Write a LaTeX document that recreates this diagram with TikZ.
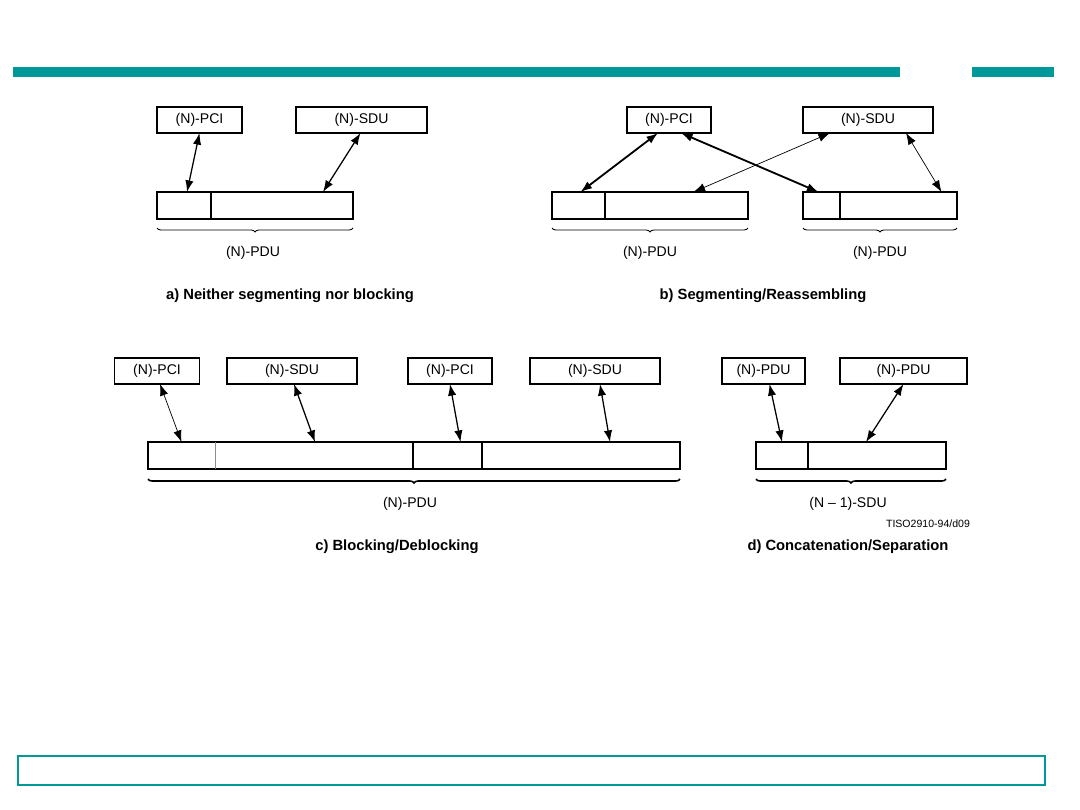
\documentclass[tikz,border=0pt]{standalone}
\usepackage{fontspec}
\setmainfont{Liberation Sans}
\usetikzlibrary{calc,arrows.meta,positioning,decorations.pathreplacing}
\definecolor{slideteal}{RGB}{0,153,153}
\newcommand{\upx}{0.025cm}
\tikzset{
  pbox/.style={rectangle, draw=black, line width=1pt, minimum height=26*\upx,
               inner sep=0pt, outer sep=0pt, font=\fontsize{10}{12}\selectfont},
  pcell/.style={rectangle, minimum height=27*\upx, inner sep=0pt, outer sep=0pt},
  pframe/.style={line width=1pt},
  pdiv/.style={line width=1pt},
  pdivfaint/.style={line width=0.4pt, black!45},
  plink/.style={{Latex[length=2.9mm,width=2.1mm]}-{Latex[length=2.9mm,width=2.1mm]},
                line width=0.9pt},
  plinkthick/.style={plink, line width=1.3pt},
  plinkthin/.style={plink, line width=0.5pt},
  pbrace/.style={decorate, decoration={brace, mirror, amplitude=0.1cm}, line width=0.6pt},
  pbracebold/.style={pbrace, line width=1.1pt},
  plabel/.style={font=\fontsize{10}{12}\selectfont},
  pcaption/.style={font=\fontsize{10.5}{12.5}\selectfont\bfseries},
  pref/.style={font=\fontsize{7.5}{9}\selectfont},
}

\begin{document}
\begin{tikzpicture}[x=\upx, y=-\upx]
  \useasboundingbox (0,0) rectangle (1080,810);
  % slide frame
  \fill[slideteal] (13,67) rectangle (900,77);
  \fill[slideteal] (972,67) rectangle (1054,77);
  \draw[slideteal, line width=1.5pt] (18,756) rectangle (1045,785);

  % a) neither segmenting nor blocking
  \node[pbox, minimum width=85*\upx] (pciA) at (199.5,120) {(N)-PCI};
  \node[pbox, minimum width=131*\upx] (sduA) at (361.5,120) {(N)-SDU};
  \node[pcell, minimum width=54*\upx, anchor=north west] (hdrA) at (157,192) {};
  \node[pcell, minimum width=142*\upx, right=0pt of hdrA] (bodyA) {};
  \draw[pframe] (hdrA.north west) rectangle (bodyA.south east);
  \draw[pdiv] (bodyA.north west) -- (bodyA.south west);
  \draw[plink] (pciA.south) -- ($(hdrA.north)+(3,0)$);
  \draw[plink] ($(sduA.south)+(-1,0)$) -- ($(bodyA.north)+(41,0)$);
  \draw[pbrace] ($(hdrA.south west)+(0,9)$) -- ($(bodyA.south east)+(0,9)$);
  \node[plabel] (pduA) at (253,253) {(N)-PDU};
  \node[pcaption] (capA) at (290,296) {a) Neither segmenting nor blocking};

  % b) segmenting/reassembling
  \node[pbox, minimum width=84*\upx] (pciB) at (669,120) {(N)-PCI};
  \node[pbox, minimum width=130*\upx] (sduB) at (868,120) {(N)-SDU};
  \node[pcell, minimum width=53*\upx, anchor=north west] (hdr1B) at (552,192) {};
  \node[pcell, minimum width=143*\upx, right=0pt of hdr1B] (body1B) {};
  \node[pcell, minimum width=37*\upx, anchor=north west] (hdr2B) at (803,192) {};
  \node[pcell, minimum width=117*\upx, right=0pt of hdr2B] (body2B) {};
  \draw[pframe] (hdr1B.north west) rectangle (body1B.south east);
  \draw[pframe] (hdr2B.north west) rectangle (body2B.south east);
  \draw[pdiv] (body1B.north west) -- (body1B.south west);
  \draw[pdiv] (body2B.north west) -- (body2B.south west);
  \draw[plinkthick] ($(pciB.south)+(-11,0)$) -- ($(hdr1B.north)+(2,0)$);
  \draw[plinkthick] ($(pciB.south)+(12,0)$) -- ($(hdr2B.north)+(-3,0)$);
  \draw[plinkthin] ($(sduB.south)+(-38,0)$) -- ($(body1B.north)+(17,0)$);
  \draw[plinkthin] ($(sduB.south)+(38,0)$) -- ($(body2B.north)+(43,0)$);
  \draw[pbrace] ($(hdr1B.south west)+(0,9)$) -- ($(body1B.south east)+(0,9)$);
  \draw[pbrace] ($(hdr2B.south west)+(0,9)$) -- ($(body2B.south east)+(0,9)$);
  \node[plabel] (pdu1B) at (650,253) {(N)-PDU};
  \node[plabel] (pdu2B) at (880,253) {(N)-PDU};
  \node[pcaption] (capB) at (763,296) {b) Segmenting/Reassembling};

  % c) blocking/deblocking
  \node[pbox, minimum width=85*\upx] (pci1C) at (157,371) {(N)-PCI};
  \node[pbox, minimum width=130*\upx] (sdu1C) at (292,371) {(N)-SDU};
  \node[pbox, minimum width=84*\upx] (pci2C) at (450,371) {(N)-PCI};
  \node[pbox, minimum width=130*\upx] (sdu2C) at (595,371) {(N)-SDU};
  \node[pcell, minimum width=67*\upx, anchor=north west] (c1) at (148,442) {};
  \node[pcell, minimum width=198*\upx, right=0pt of c1] (c2) {};
  \node[pcell, minimum width=69*\upx, right=0pt of c2] (c3) {};
  \node[pcell, minimum width=198*\upx, right=0pt of c3] (c4) {};
  \draw[pframe] (c1.north west) rectangle (c4.south east);
  \draw[pdivfaint] (c2.north west) -- (c2.south west);
  \draw[pdiv] (c3.north west) -- (c3.south west);
  \draw[pdiv] (c4.north west) -- (c4.south west);
  \draw[plinkthin] ($(pci1C.south)+(3,0)$) -- (c1.north);
  \draw[plink] ($(sdu1C.south)+(2,0)$) -- ($(c2.north)+(1,0)$);
  \draw[plink] (pci2C.south) -- ($(c3.north)+(13,0)$);
  \draw[plink] ($(sdu2C.south)+(5,0)$) -- ($(c4.north)+(29,0)$);
  \draw[pbracebold] ($(c1.south west)+(0,10)$) -- ($(c4.south east)+(0,10)$);
  \node[plabel] (pduC) at (410,504) {(N)-PDU};
  \node[pcaption] (capC) at (397,547) {c) Blocking/Deblocking};

  % d) concatenation/separation
  \node[pbox, minimum width=83*\upx] (pdu1D) at (763.5,371) {(N)-PDU};
  \node[pbox, minimum width=127*\upx] (pdu2D) at (903.5,371) {(N)-PDU};
  \node[pcell, minimum width=52*\upx, anchor=north west] (d1) at (756,442) {};
  \node[pcell, minimum width=138*\upx, right=0pt of d1] (d2) {};
  \draw[pframe] (d1.north west) rectangle (d2.south east);
  \draw[pdiv] (d2.north west) -- (d2.south west);
  \draw[plink] ($(pdu1D.south)+(6,0)$) -- (d1.north);
  \draw[plink] (pdu2D.south) -- ($(d2.north)+(-11,0)$);
  \draw[pbracebold] ($(d1.south west)+(0,10)$) -- ($(d2.south east)+(0,10)$);
  \node[plabel] (sduD) at (848,504) {(N \textendash\ 1)-SDU};
  \node[pref] (refD) at (928,524) {TISO2910-94/d09};
  \node[pcaption] (capD) at (848,547) {d) Concatenation/Separation};
\end{tikzpicture}
\end{document}
